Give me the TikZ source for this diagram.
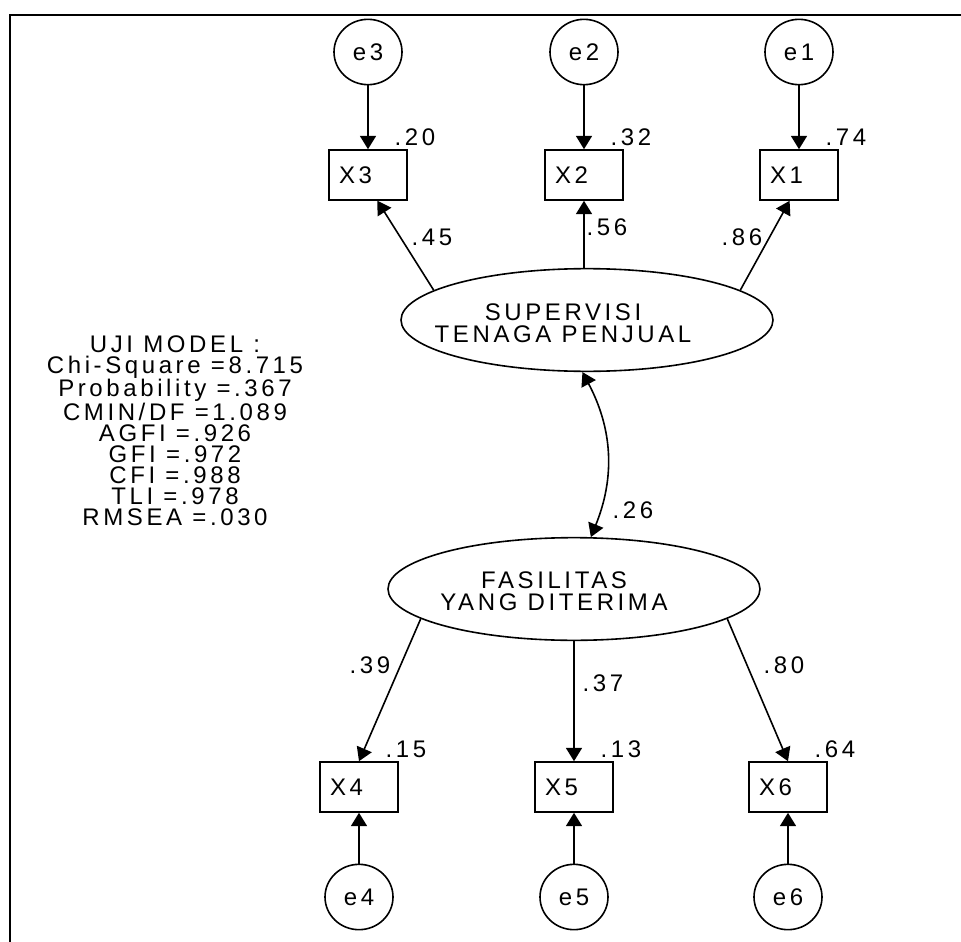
\documentclass[tikz,border=0pt]{standalone}
\usepackage{fontspec}
\setmainfont{Liberation Sans}
\newfontfamily\amosfont[LetterSpace=15]{Liberation Sans}
\usetikzlibrary{shapes.geometric,arrows.meta}
\newcommand{\amosfs}{\amosfont\fontsize{18}{16.5}\selectfont}
\tikzset{
  latent/.style={ellipse, draw, line width=1.2pt, minimum width=279pt, minimum height=77pt, inner sep=0pt},
  lvtxt/.style={align=center, inner sep=0pt, font=\amosfs},
  obs/.style={rectangle, draw, line width=1.2pt, minimum width=58.5pt, minimum height=37.5pt, inner xsep=7.5pt, text width=43.5pt, align=left, font=\amosfs},
  err/.style={ellipse, draw, line width=1.2pt, minimum width=51pt, minimum height=49pt, inner sep=0pt, font=\amosfs},
  coef/.style={inner sep=0pt, font=\amosfs},
  ldg/.style={line width=1.2pt, -{Triangle[length=10pt,width=12pt]}},
  cov/.style={line width=1.2pt, {Triangle[length=10pt,width=12pt]}-{Triangle[length=10pt,width=12pt]}}
}

\begin{document}
\begin{tikzpicture}[x=0.75pt, y=-0.75pt]
    \useasboundingbox (0,0) rectangle (961,942);
    % frame, cut at right and bottom
    \draw[line width=2pt] (10,942) -- (10,15) -- (961,15);
    % supervisi indicators
    \foreach \i/\xx/\r in {3/368/.20, 2/584/.32, 1/799/.74} {
      \node[err] (e\i) at (\xx,52) {e\i};
      \node[obs] (x\i) at (\xx,175) {X\i};
      \node[coef, anchor=base west] at ([xshift=-10pt,yshift=2.5pt]x\i.north east) {\r};
      \draw[ldg] (e\i) -- (x\i);
    }
    % latent variables
    \node[latent] (sup) at (587,320) {};
    \node[lvtxt] at (563,323) {SUPERVISI\\TENAGA PENJUAL};
    \node[latent] (fas) at (574,589) {};
    \node[lvtxt] at (554,591) {FASILITAS\\YANG DITERIMA};
    % loadings
    \draw[ldg] (sup.169) -- (x3.290);
    \draw[ldg] (sup.north -| x2.south) -- (x2.south);
    \draw[ldg] (sup.11) -- (x1.250);
    \node[coef] at (432,237) {.45};
    \node[coef] at (607,227) {.56};
    \node[coef] at (742,237) {.86};
    % covariance
    \draw[cov] (sup.265) to[bend left=25] (fas.72);
    \node[coef] at (633,510) {.26};
    % fasilitas indicators
    \foreach \i/\xx/\r in {4/359/.15, 5/574/.13, 6/788/.64} {
      \node[obs] (x\i) at (\xx,787) {X\i};
      \node[err] (e\i) at (\xx,897) {e\i};
      \node[coef, anchor=base west] at ([xshift=-10pt,yshift=2.5pt]x\i.north east) {\r};
      \draw[ldg] (e\i) -- (x\i);
    }
    \draw[ldg] (fas.191) -- (x4.north);
    \draw[ldg] (fas.south) -- (x5.north);
    \draw[ldg] (fas.-11) -- (x6.north);
    \node[coef] at (370,665) {.39};
    \node[coef] at (603,683) {.37};
    \node[coef] at (784,665) {.80};
    % model fit
    \node[lvtxt, anchor=north, font=\amosfont\fontsize{18}{15.75}\selectfont] (gof) at (175,335) {UJI MODEL :\\Chi-Square =8.715\\Probability =.367\\CMIN/DF =1.089\\AGFI =.926\\GFI =.972\\CFI =.988\\TLI =.978\\RMSEA =.030};
  \end{tikzpicture}
\end{document}
